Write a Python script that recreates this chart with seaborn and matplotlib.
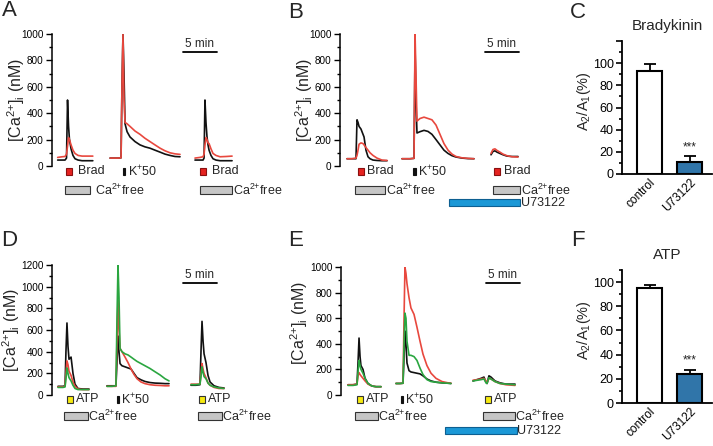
import numpy as np
import matplotlib
matplotlib.use("Agg")
import matplotlib.pyplot as plt
import matplotlib.transforms as mtransforms
from matplotlib.patches import Rectangle
import seaborn as sns

sns.set_style("ticks")
plt.rcParams['font.family'] = ['Liberation Sans', 'DejaVu Sans']
plt.rcParams['mathtext.fontset'] = 'custom'
plt.rcParams['mathtext.rm'] = 'Liberation Sans'
plt.rcParams['mathtext.it'] = 'Liberation Sans:italic'
plt.rcParams['axes.edgecolor'] = 'black'
plt.rcParams['xtick.color'] = 'black'
plt.rcParams['ytick.color'] = 'black'

# ---------------- data (time in s, [Ca2+]i in nM) ----------------
# A: bradykinin, control
a1_t = [50, 90, 115, 128, 137, 146, 154, 168, 185, 203, 230, 265, 310, 360]
a1_black = [45, 45, 45, 60, 500, 300, 200, 130, 80, 55, 45, 40, 40, 40]
a1_red = [65, 70, 72, 90, 150, 215, 200, 160, 120, 95, 80, 75, 75, 75]
a2_t = [512, 582, 609, 617, 626, 635, 644, 662, 688, 732, 776, 820, 864, 908, 953, 997, 1041, 1085, 1129]
a2_black = [60, 60, 62, 600, 1000, 700, 320, 260, 220, 185, 160, 145, 135, 120, 105, 90, 80, 72, 70]
a2_red = [60, 60, 62, 600, 1000, 500, 330, 320, 300, 265, 240, 210, 185, 160, 135, 115, 100, 92, 88]
a3_t = [1261, 1305, 1332, 1341, 1349, 1358, 1367, 1376, 1385, 1402, 1420, 1446, 1482, 1535, 1588]
a3_black = [45, 45, 45, 60, 500, 330, 220, 160, 120, 80, 55, 45, 40, 40, 40]
a3_red = [60, 65, 70, 90, 160, 215, 200, 175, 170, 130, 95, 80, 70, 72, 75]

# B: bradykinin, U73122
b1_t = [62, 106, 141, 150, 159, 168, 185, 203, 212, 229, 247, 265, 291, 326, 370, 415]
b1_black = [55, 55, 55, 350, 330, 300, 280, 240, 220, 120, 70, 55, 45, 42, 40, 40]
b1_red = [55, 55, 60, 80, 120, 165, 175, 170, 160, 140, 120, 100, 80, 60, 45, 42]
b2_t = [547, 617, 653, 662, 670, 679, 706, 741, 776, 811, 847, 882, 917, 953, 988, 1023, 1076, 1129, 1182]
b2_black = [55, 55, 58, 900, 500, 250, 260, 270, 262, 240, 200, 160, 120, 95, 78, 68, 60, 56, 55]
b2_red = [55, 55, 58, 1000, 700, 340, 360, 370, 360, 350, 310, 240, 170, 120, 90, 72, 62, 58, 55]
b3_t = [1332, 1349, 1367, 1385, 1411, 1438, 1473, 1517, 1570]
b3_black = [85, 110, 115, 105, 95, 85, 75, 72, 72]
b3_red = [95, 125, 130, 118, 105, 90, 78, 70, 68]

# D: ATP, control
d1_t = [53, 97, 115, 123, 132, 141, 150, 168, 185, 203, 229, 273, 326]
d1_black = [80, 80, 85, 400, 665, 450, 330, 350, 200, 100, 60, 55, 55]
d1_red = [75, 75, 80, 200, 315, 280, 220, 180, 120, 80, 55, 50, 50]
d1_green = [70, 70, 75, 150, 250, 200, 160, 130, 90, 60, 50, 50, 50]
d2_t = [485, 529, 564, 573, 582, 591, 600, 617, 644, 670, 697, 723, 750, 785, 820, 864, 908, 953, 997, 1032]
d2_black = [85, 85, 85, 300, 545, 400, 290, 270, 260, 250, 240, 200, 160, 140, 125, 115, 110, 108, 105, 105]
d2_red = [80, 80, 80, 500, 875, 600, 430, 400, 350, 300, 240, 190, 150, 120, 105, 95, 90, 88, 85, 85]
d2_green = [80, 80, 85, 700, 1200, 900, 430, 400, 380, 370, 350, 330, 310, 290, 270, 245, 215, 185, 150, 130]
d3_t = [1226, 1270, 1305, 1314, 1323, 1332, 1341, 1358, 1376, 1394, 1429, 1473, 1517]
d3_black = [90, 90, 95, 400, 680, 500, 380, 300, 180, 120, 85, 70, 65]
d3_red = [100, 100, 100, 200, 290, 240, 200, 160, 110, 90, 70, 60, 60]
d3_green = [95, 95, 100, 170, 260, 210, 170, 150, 110, 90, 75, 65, 60]

# E: ATP, U73122
e1_t = [62, 106, 141, 150, 159, 168, 176, 194, 212, 238, 273, 309, 353]
e1_black = [80, 80, 85, 250, 445, 300, 230, 200, 130, 90, 70, 65, 65]
e1_red = [80, 80, 85, 150, 175, 160, 150, 130, 110, 85, 70, 65, 65]
e1_green = [75, 75, 80, 180, 270, 230, 200, 170, 130, 90, 70, 65, 65]
e2_t = [485, 520, 547, 556, 564, 573, 582, 600, 617, 644, 670, 697, 723, 758, 794, 838, 891, 944, 970]
e2_black = [90, 90, 92, 300, 500, 400, 250, 190, 180, 175, 170, 165, 150, 125, 110, 100, 95, 92, 90]
e2_red = [90, 90, 92, 600, 1000, 950, 870, 760, 680, 630, 530, 420, 320, 230, 170, 130, 105, 95, 92]
e2_green = [90, 90, 92, 400, 640, 600, 420, 310, 310, 300, 270, 210, 160, 120, 105, 100, 95, 92, 90]
e3_t = [1164, 1200, 1235, 1261, 1279, 1288, 1305, 1323, 1358, 1402, 1455, 1535]
e3_black = [110, 120, 130, 140, 100, 90, 150, 140, 110, 95, 85, 85]
e3_red = [115, 120, 125, 130, 110, 95, 130, 125, 105, 90, 80, 75]
e3_green = [110, 115, 120, 125, 95, 90, 135, 125, 105, 90, 85, 80]

# C / F: A2/A1 summary
conditions = ["control", "U73122"]
brad_mean = [92.5, 11]
brad_sem = [6.5, 5]
atp_mean = [95, 24]
atp_sem = [2.5, 3.5]

BLACK = "#111111"
RED = "#e8483e"
GREEN = "#2aa640"
BAR_BLUE = "#1c78bd"
U_BLUE = "#1b98d6"

W, H = 713, 446
fig = plt.figure(figsize=(W / 100, H / 100), dpi=100)


def px_axes(l, t, r, b):
    return fig.add_axes([l / W, 1 - b / H, (r - l) / W, (b - t) / H])


def trace_axes(box, ymax, xmax, lab_x, lab_y=0.5):
    ax = px_axes(*box)
    ax.set_facecolor('none')
    sns.despine(ax=ax, bottom=True)
    ax.set_xticks([])
    ax.set_xlim(0, xmax)
    ax.set_ylim(0, ymax)
    ax.set_yticks(np.arange(0, ymax + 1, 200))
    ax.set_yticks(np.arange(100, ymax, 200), minor=True)
    ax.tick_params(axis='y', which='major', length=4, width=1, labelsize=7.2, pad=2)
    ax.tick_params(axis='y', which='minor', length=2.5, width=1)
    ax.spines['left'].set_linewidth(1.1)
    ax.text(lab_x, lab_y, r'[Ca$^{2{+}}$]$_{\mathrm{i}}$ (nM)', transform=ax.transAxes,
            rotation=90, ha='center', va='center', fontsize=11.5)
    return ax


def draw_traces(ax, segments, colors):
    for seg in segments:
        t = seg[0]
        for vals, c in zip(seg[1:], colors):
            sns.lineplot(x=t, y=vals, color=c, lw=1.2, ax=ax, estimator=None, errorbar=None)


def scale_bar(ax, t0, hpx, ypx_from_bottom):
    tr = mtransforms.blended_transform_factory(ax.transData, ax.transAxes)
    y = ypx_from_bottom / hpx
    ax.plot([t0, t0 + 300], [y, y], color='black', lw=1.3, transform=tr, clip_on=False)
    ax.text(t0 + 150, y + 2 / hpx, '5 min', transform=tr, ha='center', va='bottom', fontsize=8.5)


def protocol(ax, hpx, items):
    tr = mtransforms.blended_transform_factory(ax.transData, ax.transAxes)
    for kind, t0, t1, label, tx, row in items:
        top, bot = row
        y0, y1 = -bot / hpx, -top / hpx
        if kind == 'red':
            fc, ec = "#e52320", "#8a1010"
        elif kind == 'yellow':
            fc, ec = "#f6ea10", "#333333"
        elif kind == 'k':
            fc, ec = "#111111", "#111111"
        elif kind == 'gray':
            fc, ec = "#c6c6c6", "#333333"
        else:
            fc, ec = U_BLUE, "#0d5f91"
        ax.add_patch(Rectangle((t0, y0), t1 - t0, y1 - y0, transform=tr, clip_on=False,
                               facecolor=fc, edgecolor=ec, lw=0.8))
        if label:
            ax.text(tx, (y0 + y1) / 2, label, transform=tr, ha='left', va='center', fontsize=9)


ROW_AB = {'m': (2, 9), 'g': (20, 28), 'b': (33, 40)}
ROW_DE = {'m': (1, 8), 'g': (17, 25), 'b': (32, 39)}
KLAB = r'K$^{{+}}$50'
CALAB = r'Ca$^{2{+}}$free'

# ---- A ----
axA = trace_axes((52, 34, 240, 166), 1000, 1658, -0.19)
draw_traces(axA, [(a1_t, a1_black, a1_red), (a2_t, a2_black, a2_red), (a3_t, a3_black, a3_red)], [BLACK, RED])
scale_bar(axA, 1155, 132, 114)
protocol(axA, 132, [
    ('red', 123, 176, 'Brad', 229, ROW_AB['m']),
    ('k', 622, 645, KLAB, 670, ROW_AB['m']),
    ('gray', 115, 335, CALAB, 380, ROW_AB['g']),
    ('red', 1305, 1358, 'Brad', 1411, ROW_AB['m']),
    ('gray', 1305, 1588, CALAB, 1596, ROW_AB['g']),
])

# ---- B ----
axB = trace_axes((340, 34, 530, 166), 1000, 1676, -0.19)
draw_traces(axB, [(b1_t, b1_black, b1_red), (b2_t, b2_black, b2_red), (b3_t, b3_black, b3_red)], [BLACK, RED])
scale_bar(axB, 1279, 132, 114)
protocol(axB, 132, [
    ('red', 159, 212, 'Brad', 238, ROW_AB['m']),
    ('k', 644, 666, KLAB, 688, ROW_AB['m']),
    ('gray', 132, 397, CALAB, 406, ROW_AB['g']),
    ('red', 1358, 1411, 'Brad', 1446, ROW_AB['m']),
    ('gray', 1349, 1588, CALAB, 1596, ROW_AB['g']),
    ('blue', 961, 1588, 'U73122', 1596, ROW_AB['b']),
])

# ---- D ----
axD = trace_axes((52, 265, 240, 395), 1200, 1658, -0.215)
draw_traces(axD, [(d1_t, d1_black, d1_red, d1_green), (d2_t, d2_black, d2_red, d2_green),
                  (d3_t, d3_black, d3_red, d3_green)], [BLACK, RED, GREEN])
scale_bar(axD, 1155, 130, 112)
protocol(axD, 130, [
    ('yellow', 132, 185, 'ATP', 212, ROW_DE['m']),
    ('k', 573, 595, KLAB, 609, ROW_DE['m']),
    ('gray', 106, 318, CALAB, 318, ROW_DE['g']),
    ('yellow', 1296, 1349, 'ATP', 1376, ROW_DE['m']),
    ('gray', 1288, 1499, CALAB, 1499, ROW_DE['g']),
])

# ---- E ----
axE = trace_axes((341, 267, 530, 395), 1000, 1667, -0.22, 0.56)
draw_traces(axE, [(e1_t, e1_black, e1_red, e1_green), (e2_t, e2_black, e2_red, e2_green),
                  (e3_t, e3_black, e3_red, e3_green)], [BLACK, RED, GREEN])
scale_bar(axE, 1275, 128, 112)
protocol(axE, 128, [
    ('yellow', 141, 194, 'ATP', 220, ROW_DE['m']),
    ('k', 529, 551, KLAB, 564, ROW_DE['m']),
    ('gray', 123, 326, CALAB, 326, ROW_DE['g']),
    ('yellow', 1270, 1323, 'ATP', 1349, ROW_DE['m']),
    ('gray', 1252, 1535, CALAB, 1535, ROW_DE['g']),
    ('blue', 917, 1552, 'U73122', 1552, ROW_DE['b']),
])


# ---- bar panels ----
def bar_panel(box, means, sems, title, ymax):
    ax = px_axes(*box)
    ax.set_facecolor('none')
    sns.barplot(x=conditions, y=means, hue=conditions, palette=['white', BAR_BLUE], legend=False,
                edgecolor='black', linewidth=1.5, width=0.625, ax=ax)
    ax.errorbar([0, 1], means, yerr=[[0, 0], sems], fmt='none', ecolor='black',
                elinewidth=1.3, capsize=4, capthick=1.3, zorder=1)
    ax.text(1, means[1] + sems[1] + 3, '***', ha='center', va='bottom', fontsize=8.5)
    sns.despine(ax=ax)
    ax.spines['left'].set_linewidth(1.3)
    ax.spines['bottom'].set_linewidth(1.3)
    ax.set_xlim(-0.69, 1.56)
    ax.set_ylim(0, ymax)
    ax.set_yticks(np.arange(0, ymax + 1, 20))
    ax.set_yticklabels([str(v) if v <= 100 else '' for v in np.arange(0, ymax + 1, 20)])
    ax.set_yticks(np.arange(10, ymax + 1, 20), minor=True)
    ax.tick_params(axis='y', which='major', length=4, width=1.2, labelsize=9, pad=2)
    ax.tick_params(axis='y', which='minor', length=2.5, width=1.2)
    ax.tick_params(axis='x', length=0, labelsize=8.5, pad=2)
    plt.setp(ax.get_xticklabels(), rotation=45, ha='right', rotation_mode='anchor')
    ax.set_ylabel('')
    ax.text(-0.42, 0.55, r'A$_2$/A$_1$(%)', transform=ax.transAxes, rotation=90,
            ha='center', va='center', fontsize=10.5)
    ax.set_title(title, fontsize=11, pad=8)
    return ax


axC = bar_panel((622, 41, 712, 174), brad_mean, brad_sem, 'Bradykinin', 120)
axF = bar_panel((622, 270, 712, 403), atp_mean, atp_sem, 'ATP', 110)

for letter, x, y in [('A', 9, 10), ('B', 296, 13), ('C', 578, 13),
                     ('D', 9, 241), ('E', 296, 241), ('F', 578, 241)]:
    fig.text(x / W, 1 - y / H, letter, ha='center', va='center', fontsize=16)

fig.savefig("out.png", dpi=100)
